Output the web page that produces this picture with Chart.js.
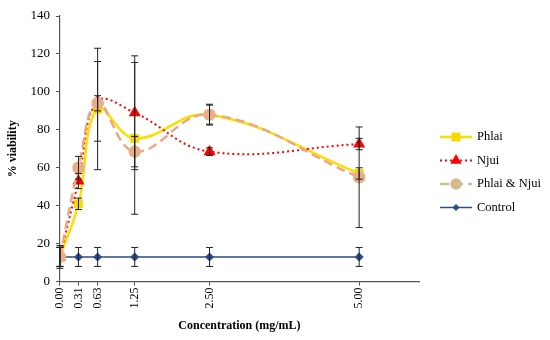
<!DOCTYPE html>
<html>
<head>
<meta charset="utf-8">
<script src="https://cdn.jsdelivr.net/npm/chart.js@4.4.1/dist/chart.umd.min.js"></script>
<style>
    html, body { margin: 0; padding: 0; background: #fff; }
    #wrap { width: 550px; height: 340px; position: relative; }
</style>
</head>
<body>
<div id="wrap"><canvas id="viabilityChart"></canvas></div>
<script>
"use strict";

// concentrations (mg/mL)
const concentrations = [0, 0.31, 0.63, 1.25, 2.5, 5];
const tickValues = [0, 0.31, 0.63, 1.25, 2.5, 5];

const phlaiValues = [13, 41, 91, 75.5, 88, 57];
const phlaiErrors = [6, 3, 32, 40, 5.5, 3];

const njuiValues = [13, 53, 95, 89, 68.5, 72.5];
const njuiErrors = [5, 4, 21, 30, 2, 3];

const comboValues = [13, 60, 94, 68.5, 88, 55];
const comboErrors = [5, 6, 4, 8, 5, 26.5];

const controlValues = [13, 13, 13, 13, 13, 13];
const controlErrors = [5, 5, 5, 5, 5, 5];

const FONT = "'Liberation Serif', 'DejaVu Serif', serif";

const toPoints = (values) => concentrations.map((c, i) => ({x: c, y: values[i]}));

const series = [
    {
        label: 'Phlai', values: phlaiValues, errors: phlaiErrors,
        color: '#FFDD00', pointColor: '#F4DA00', dash: [], width: 2.5,
        pointStyle: 'rect', radius: 4.5, order: 3
    },
    {
        label: 'Njui', values: njuiValues, errors: njuiErrors,
        color: '#FF0000', pointColor: '#FF0000', dash: [2, 3], width: 2,
        pointStyle: 'triangle', radius: 5, order: 2
    },
    {
        label: 'Phlai & Njui', values: comboValues, errors: comboErrors,
        color: '#EBA885', pointColor: '#E9AE8C', dash: [9, 5], width: 2.5,
        pointStyle: 'circle', radius: 5, order: 1,
        legendColor: '#D4BA8E'
    },
    {
        label: 'Control', values: controlValues, errors: controlErrors,
        color: '#2E4A8A', pointColor: '#2E4A8A', dash: [], width: 1.5,
        pointStyle: 'rectRot', radius: 3.5, order: 4, tension: 0
    }
];

// error bars drawn through the chart's scales
const errorBarPlugin = {
    id: 'errorBars',
    afterDatasetsDraw(chart) {
        const ctx = chart.ctx;
        const xs = chart.scales.x;
        const ys = chart.scales.y;
        ctx.save();
        ctx.strokeStyle = '#222';
        ctx.lineWidth = 1;
        series.forEach((s) => {
            s.values.forEach((v, i) => {
                const px = xs.getPixelForValue(concentrations[i]);
                const top = ys.getPixelForValue(v + s.errors[i]);
                const bot = ys.getPixelForValue(v - s.errors[i]);
                ctx.beginPath();
                ctx.moveTo(px, top);
                ctx.lineTo(px, bot);
                ctx.moveTo(px - 3.5, top);
                ctx.lineTo(px + 3.5, top);
                ctx.moveTo(px - 3.5, bot);
                ctx.lineTo(px + 3.5, bot);
                ctx.stroke();
            });
        });
        ctx.restore();
    }
};

// legend with line + marker samples
const sampleLegendPlugin = {
    id: 'sampleLegend',
    afterDraw(chart) {
        const ctx = chart.ctx;
        const x0 = chart.chartArea.right + 21;
        let y = 137;
        ctx.save();
        ctx.font = '12.5px ' + FONT;
        ctx.textBaseline = 'middle';
        series.forEach((s) => {
            const c = s.legendColor || s.color;
            ctx.strokeStyle = c;
            ctx.lineWidth = s.width;
            ctx.setLineDash(s.dash);
            ctx.beginPath();
            ctx.moveTo(x0, y);
            ctx.lineTo(x0 + 32, y);
            ctx.stroke();
            ctx.setLineDash([]);
            ctx.fillStyle = s.legendColor || s.pointColor;
            ctx.strokeStyle = s.legendColor || s.pointColor;
            Chart.helpers.drawPoint(ctx, {
                pointStyle: s.pointStyle, radius: s.pointStyle === 'rectRot' ? 2.5 : 4.5,
                rotation: 0, borderWidth: 1
            }, x0 + 16, y);
            ctx.fillStyle = '#000';
            ctx.fillText(s.label, x0 + 37, y);
            y += 23.5;
        });
        ctx.restore();
    }
};

const chart = new Chart(document.getElementById('viabilityChart'), {
    type: 'line',
    data: {
        datasets: series.map((s) => ({
            label: s.label,
            data: toPoints(s.values),
            borderColor: s.color,
            borderWidth: s.width,
            borderDash: s.dash,
            backgroundColor: s.pointColor,
            pointBackgroundColor: s.pointColor,
            pointBorderColor: s.pointColor,
            pointStyle: s.pointStyle,
            pointRadius: s.radius,
            tension: s.tension === undefined ? 0.4 : s.tension,
            fill: false,
            order: s.order
        }))
    },
    options: {
        responsive: true,
        maintainAspectRatio: false,
        animation: false,
        layout: {
            padding: {top: 16, right: 131, left: 2, bottom: 3}
        },
        plugins: {
            legend: {display: false},
            tooltip: {enabled: false}
        },
        scales: {
            x: {
                type: 'linear',
                min: 0,
                max: 6,
                afterBuildTicks: (axis) => {
                    axis.ticks = tickValues.map(v => ({value: v}));
                },
                ticks: {
                    color: '#000',
                    font: {family: FONT, size: 12},
                    minRotation: 90,
                    maxRotation: 90,
                    padding: 2,
                    callback: (v) => Number(v).toFixed(2)
                },
                grid: {display: true, drawOnChartArea: false, drawTicks: true, tickLength: 4, color: '#555'},
                border: {color: '#555', width: 1.2},
                title: {
                    display: true,
                    text: 'Concentration (mg/mL)',
                    color: '#000',
                    font: {family: FONT, size: 12, weight: 'bold'},
                    padding: {top: 8}
                }
            },
            y: {
                min: 0,
                max: 140,
                ticks: {
                    stepSize: 20,
                    color: '#000',
                    font: {family: FONT, size: 13},
                    padding: 6
                },
                grid: {display: true, drawOnChartArea: false, drawTicks: true, tickLength: 4, color: '#555'},
                border: {color: '#555', width: 1.2},
                title: {
                    display: true,
                    text: '% viability',
                    color: '#000',
                    font: {family: FONT, size: 12, weight: 'bold'},
                    padding: {top: 4, bottom: 4}
                }
            }
        }
    },
    plugins: [errorBarPlugin, sampleLegendPlugin]
});
</script>
</body>
</html>
